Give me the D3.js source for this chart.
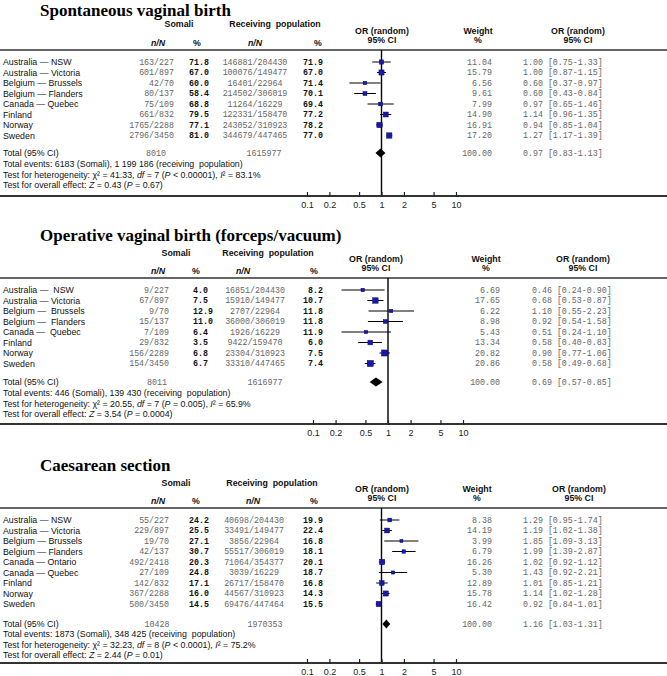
<!DOCTYPE html>
<html><head><meta charset="utf-8">
<script src="https://cdn.jsdelivr.net/npm/d3@7"></script>
<style>body{margin:0;background:#fff} svg{display:block}</style>
</head><body><svg id="c" width="667" height="676"></svg>
<script>
// ---------- DATA ----------
const titles = ["Spontaneous vaginal birth", "Operative vaginal birth (forceps/vacuum)", "Caesarean section"];
const tickValues = [0.1, 0.2, 0.5, 1, 2, 5, 10];
const tickLabels = ["0.1", "0.2", "0.5", "1", "2", "5", "10"];

const countries1 = ["Australia — NSW","Australia — Victoria","Belgium — Brussels","Belgium — Flanders","Canada — Quebec","Finland","Norway","Sweden"];
const somaliNN1 = ["163/227","601/897","42/70","80/137","75/109","661/832","1765/2288","2796/3450"];
const somaliPct1 = ["71.8","67.0","60.0","58.4","68.8","79.5","77.1","81.0"];
const recvNN1 = ["146881/204430","100076/149477","16401/22964","214502/306019","11264/16229","122331/158470","243052/310923","344679/447465"];
const recvPct1 = ["71.9","67.0","71.4","70.1","69.4","77.2","78.2","77.0"];
const weight1 = [11.04,15.79,6.56,9.61,7.99,14.90,16.91,17.20];
const or1 = [1.00,1.00,0.60,0.60,0.97,1.14,0.94,1.27];
const lo1 = [0.75,0.87,0.37,0.43,0.65,0.96,0.85,1.17];
const hi1 = [1.33,1.15,0.97,0.84,1.46,1.35,1.04,1.39];
const total1 = {somN:"8010", recN:"1615977", weight:100.00, or:0.97, lo:0.83, hi:1.13};
const notes1 = ["Total events: 6183 (Somali), 1 199 186 (receiving  population)", "41.33", "7", "< 0.00001", "83.1%", "0.43", "= 0.67"];

const countries2 = ["Australia —  NSW","Australia — Victoria","Belgium —  Brussels","Belgium —  Flanders","Canada —  Quebec","Finland","Norway","Sweden"];
const somaliNN2 = ["9/227","67/897","9/70","15/137","7/109","29/832","156/2289","154/3450"];
const somaliPct2 = ["4.0","7.5","12.9","11.0","6.4","3.5","6.8","6.7"];
const recvNN2 = ["16851/204430","15910/149477","2707/22964","36000/306019","1926/16229","9422/159470","23304/310923","33310/447465"];
const recvPct2 = ["8.2","10.7","11.8","11.8","11.9","6.0","7.5","7.4"];
const weight2 = [6.69,17.65,6.22,8.98,5.43,13.34,20.82,20.86];
const or2 = [0.46,0.68,1.10,0.92,0.51,0.58,0.90,0.58];
const lo2 = [0.24,0.53,0.55,0.54,0.24,0.40,0.77,0.49];
const hi2 = [0.90,0.87,2.23,1.58,1.10,0.83,1.06,0.68];
const total2 = {somN:"8011", recN:"1616977", weight:100.00, or:0.69, lo:0.57, hi:0.85};
const notes2 = ["Total events: 446 (Somali), 139 430 (receiving  population)", "20.55", "7", "= 0.005", "65.9%", "3.54", "= 0.0004"];

const countries3 = ["Australia — NSW","Australia — Victoria","Belgium — Brussels","Belgium — Flanders","Canada — Ontario","Canada — Quebec","Finland","Norway","Sweden"];
const somaliNN3 = ["55/227","229/897","19/70","42/137","492/2418","27/109","142/832","367/2288","500/3450"];
const somaliPct3 = ["24.2","25.5","27.1","30.7","20.3","24.8","17.1","16.0","14.5"];
const recvNN3 = ["40698/204430","33491/149477","3856/22964","55517/306019","71064/354377","3039/16229","26717/158470","44567/310923","69476/447464"];
const recvPct3 = ["19.9","22.4","16.8","18.1","20.1","18.7","16.8","14.3","15.5"];
const weight3 = [8.38,14.19,3.99,6.79,16.26,5.30,12.89,15.78,16.42];
const or3 = [1.29,1.19,1.85,1.99,1.02,1.43,1.01,1.14,0.92];
const lo3 = [0.95,1.02,1.09,1.39,0.92,0.92,0.85,1.02,0.84];
const hi3 = [1.74,1.38,3.13,2.87,1.12,2.21,1.21,1.28,1.01];
const total3 = {somN:"10428", recN:"1970353", weight:100.00, or:1.16, lo:1.03, hi:1.31};
const notes3 = ["Total events: 1873 (Somali), 348 425 (receiving  population)", "32.23", "8", "< 0.0001", "75.2%", "2.44", "= 0.01"];

// ---------- LAYOUT ----------
const layouts = [
  {titleBase:16, hdrY:24, orY1:31, orY2:40, nnY:43, line:50, row0:62, step:10.5, totalY:153, evY:164, hetY:175, ovY:185, axis:196, xr:[307,456],
   somHdr:179, recHdr:275, nnS:158, pctS:197, nnR:255, pctR:318, somNN:174, somPct:209, somPctAnchor:"end", recNN:255, recPct:323,
   wHdr:478, wVal:492, orHdr1:382, orHdr:578, orVal:523, totS:156, totR:264},
  {titleBase:241, hdrY:253, orY1:259, orY2:268, nnY:271, line:278, row0:290, step:10.5, totalY:382, evY:393, hetY:404, ovY:414, axis:424, xr:[313,463],
   somHdr:176, recHdr:268, nnS:158, pctS:196, nnR:243, pctR:314, somNN:169, somPct:193, somPctAnchor:"start", recNN:255, recPct:323,
   wHdr:486, wVal:500, orHdr1:376, orHdr:583, orVal:532, totS:157, totR:265},
  {titleBase:471, hdrY:483, orY1:489, orY2:498, nnY:501, line:508, row0:520, step:10.5, totalY:624, evY:634, hetY:645, ovY:655, axis:663, xr:[307,456],
   somHdr:176, recHdr:272, nnS:158, pctS:196, nnR:253, pctR:314, somNN:169, somPct:209, somPctAnchor:"end", recNN:254, recPct:323,
   wHdr:477, wVal:492, orHdr1:382, orHdr:579, orVal:523, totS:157, totR:265}
];

const panels = [
  {countries:countries1, somNN:somaliNN1, somPct:somaliPct1, recNN:recvNN1, recPct:recvPct1, w:weight1, or:or1, lo:lo1, hi:hi1, total:total1, notes:notes1},
  {countries:countries2, somNN:somaliNN2, somPct:somaliPct2, recNN:recvNN2, recPct:recvPct2, w:weight2, or:or2, lo:lo2, hi:hi2, total:total2, notes:notes2},
  {countries:countries3, somNN:somaliNN3, somPct:somaliPct3, recNN:recvNN3, recPct:recvPct3, w:weight3, or:or3, lo:lo3, hi:hi3, total:total3, notes:notes3}
];

const SANS = "'Liberation Sans', Arial, Helvetica, sans-serif";
const MONO = "'Liberation Mono', 'Courier New', monospace";
const SERIF = "'Liberation Serif', 'Times New Roman', serif";
const FS = 8.8;
const W = 667;
const svg = d3.select("#c");
const sizeScale = d3.scaleLinear().domain([0, 25]).range([2.2, 6.8]);

function txt(g, x, y, s, o) {
  o = o || {};
  return g.append("text").attr("x", x).attr("y", y).attr("dy", "0.35em")
    .attr("text-anchor", o.anchor || "start")
    .style("font-family", o.font || SANS)
    .style("font-size", (o.size || FS) + "px")
    .style("font-weight", o.bold ? "bold" : "normal")
    .style("font-style", o.italic ? "italic" : "normal")
    .style("white-space", "pre")
    .attr("fill", o.fill || "#111")
    .text(s);
}
function rich(g, x, y, segs) {
  const t = g.append("text").attr("x", x).attr("y", y).attr("dy", "0.35em")
    .style("font-family", SANS).style("font-size", FS + "px").style("white-space", "pre").attr("fill", "#111");
  segs.forEach(s => t.append("tspan").style("font-style", s[1] ? "italic" : "normal").text(s[0]));
}
const fmtOR = (o, l, h) => `${o.toFixed(2)} [${l.toFixed(2)}-${h.toFixed(2)}]`;

panels.forEach((p, k) => {
  const L = layouts[k];
  const g = svg.append("g");
  const x = d3.scaleLog().domain([0.1, 10]).range(L.xr);

  // title
  g.append("text").attr("x", 40).attr("y", L.titleBase)
    .style("font-family", SERIF).style("font-weight", "bold").style("font-size", "17px").attr("fill", "#000")
    .text(titles[k]);

  // headers
  txt(g, L.somHdr, L.hdrY, "Somali", {anchor:"middle", bold:true});
  txt(g, L.recHdr, L.hdrY, "Receiving  population", {anchor:"middle", bold:true});
  txt(g, L.nnS, L.nnY, "n/N", {anchor:"middle", bold:true, italic:true});
  txt(g, L.pctS, L.nnY, "%", {anchor:"middle", bold:true});
  txt(g, L.nnR, L.nnY, "n/N", {anchor:"middle", bold:true, italic:true});
  txt(g, L.pctR, L.nnY, "%", {anchor:"middle", bold:true});
  txt(g, L.orHdr1, L.orY1, "OR (random)", {anchor:"middle", bold:true});
  txt(g, L.orHdr1, L.orY2, "95% CI", {anchor:"middle", bold:true});
  txt(g, L.wHdr, L.orY1, "Weight", {anchor:"middle", bold:true});
  txt(g, L.wHdr, L.orY2, "%", {anchor:"middle", bold:true});
  txt(g, L.orHdr, L.orY1, "OR (random)", {anchor:"middle", bold:true});
  txt(g, L.orHdr, L.orY2, "95% CI", {anchor:"middle", bold:true});

  // top rule
  g.append("line").attr("x1", 0).attr("x2", W).attr("y1", L.line).attr("y2", L.line)
    .attr("stroke", "#333").attr("stroke-width", 1.6);

  // vertical line of no effect
  g.append("line").attr("x1", x(1)).attr("x2", x(1)).attr("y1", L.line).attr("y2", L.axis)
    .attr("stroke", "#000").attr("stroke-width", 1.4);

  // rows
  p.countries.forEach((c, i) => {
    const y = L.row0 + i * L.step;
    txt(g, 3, y, c, {});
    txt(g, L.somNN, y, p.somNN[i], {anchor:"end", font:MONO, size:8.3, fill:"#666"});
    txt(g, L.somPct, y, p.somPct[i], {anchor:L.somPctAnchor, font:MONO, size:8.3, bold:true, fill:"#111"});
    txt(g, L.recNN, y, p.recNN[i], {anchor:"middle", font:MONO, size:8.3, fill:"#666"});
    txt(g, L.recPct, y, p.recPct[i], {anchor:"end", font:MONO, size:8.3, bold:true, fill:"#111"});
    txt(g, L.wVal, y, p.w[i].toFixed(2), {anchor:"end", font:MONO, size:8.3, fill:"#666"});
    txt(g, L.orVal, y, fmtOR(p.or[i], p.lo[i], p.hi[i]), {font:MONO, size:8.3, fill:"#666"});
    g.append("line").attr("x1", x(p.lo[i])).attr("x2", x(p.hi[i])).attr("y1", y).attr("y2", y)
      .attr("stroke", "#000").attr("stroke-width", 1);
    const s = sizeScale(p.w[i]);
    g.append("rect").attr("x", x(p.or[i]) - s / 2).attr("y", y - s / 2).attr("width", s).attr("height", s)
      .attr("fill", "#1a1aa8").attr("stroke", "#00007a").attr("stroke-width", 0.5);
  });

  // total row
  const t = p.total;
  txt(g, 3, L.totalY, "Total (95% CI)", {});
  txt(g, L.totS, L.totalY, t.somN, {anchor:"middle", font:MONO, size:8.3, fill:"#666"});
  txt(g, L.totR, L.totalY, t.recN, {anchor:"middle", font:MONO, size:8.3, fill:"#666"});
  txt(g, L.wVal, L.totalY, t.weight.toFixed(2), {anchor:"end", font:MONO, size:8.3, fill:"#666"});
  txt(g, L.orVal, L.totalY, fmtOR(t.or, t.lo, t.hi), {font:MONO, size:8.3, fill:"#666"});
  const dy = 4.5;
  g.append("path").attr("d", d3.line()([[x(t.lo), L.totalY], [x(t.or), L.totalY - dy], [x(t.hi), L.totalY], [x(t.or), L.totalY + dy]]) + "Z")
    .attr("fill", "#000");

  // notes
  const n = p.notes;
  txt(g, 3, L.evY, n[0], {});
  rich(g, 3, L.hetY, [["Test for heterogeneity: χ² = " + n[1] + ", ", 0], ["df", 1], [" = " + n[2] + " (", 0], ["P", 1], [" " + n[3] + "), ", 0], ["I", 1], ["² = " + n[4], 0]]);
  rich(g, 3, L.ovY, [["Test for overall effect: ", 0], ["Z", 1], [" = " + n[5] + " (", 0], ["P", 1], [" " + n[6] + ")", 0]]);

  // axis
  g.append("line").attr("x1", 0).attr("x2", W).attr("y1", L.axis).attr("y2", L.axis)
    .attr("stroke", "#333").attr("stroke-width", 2);
  const ax = d3.axisBottom(x).tickValues(tickValues).tickFormat((d, i) => tickLabels[i]).tickSize(-4).tickPadding(6);
  const ag = g.append("g").attr("transform", `translate(0,${L.axis})`).call(ax);
  ag.select(".domain").remove();
  ag.selectAll(".tick line").attr("stroke", "#222").attr("stroke-width", 1.2).attr("y2", -4).attr("y1", 1);
  ag.selectAll(".tick text").style("font-family", SANS).style("font-size", "9px").attr("fill", "#222");
});
</script></body></html>
